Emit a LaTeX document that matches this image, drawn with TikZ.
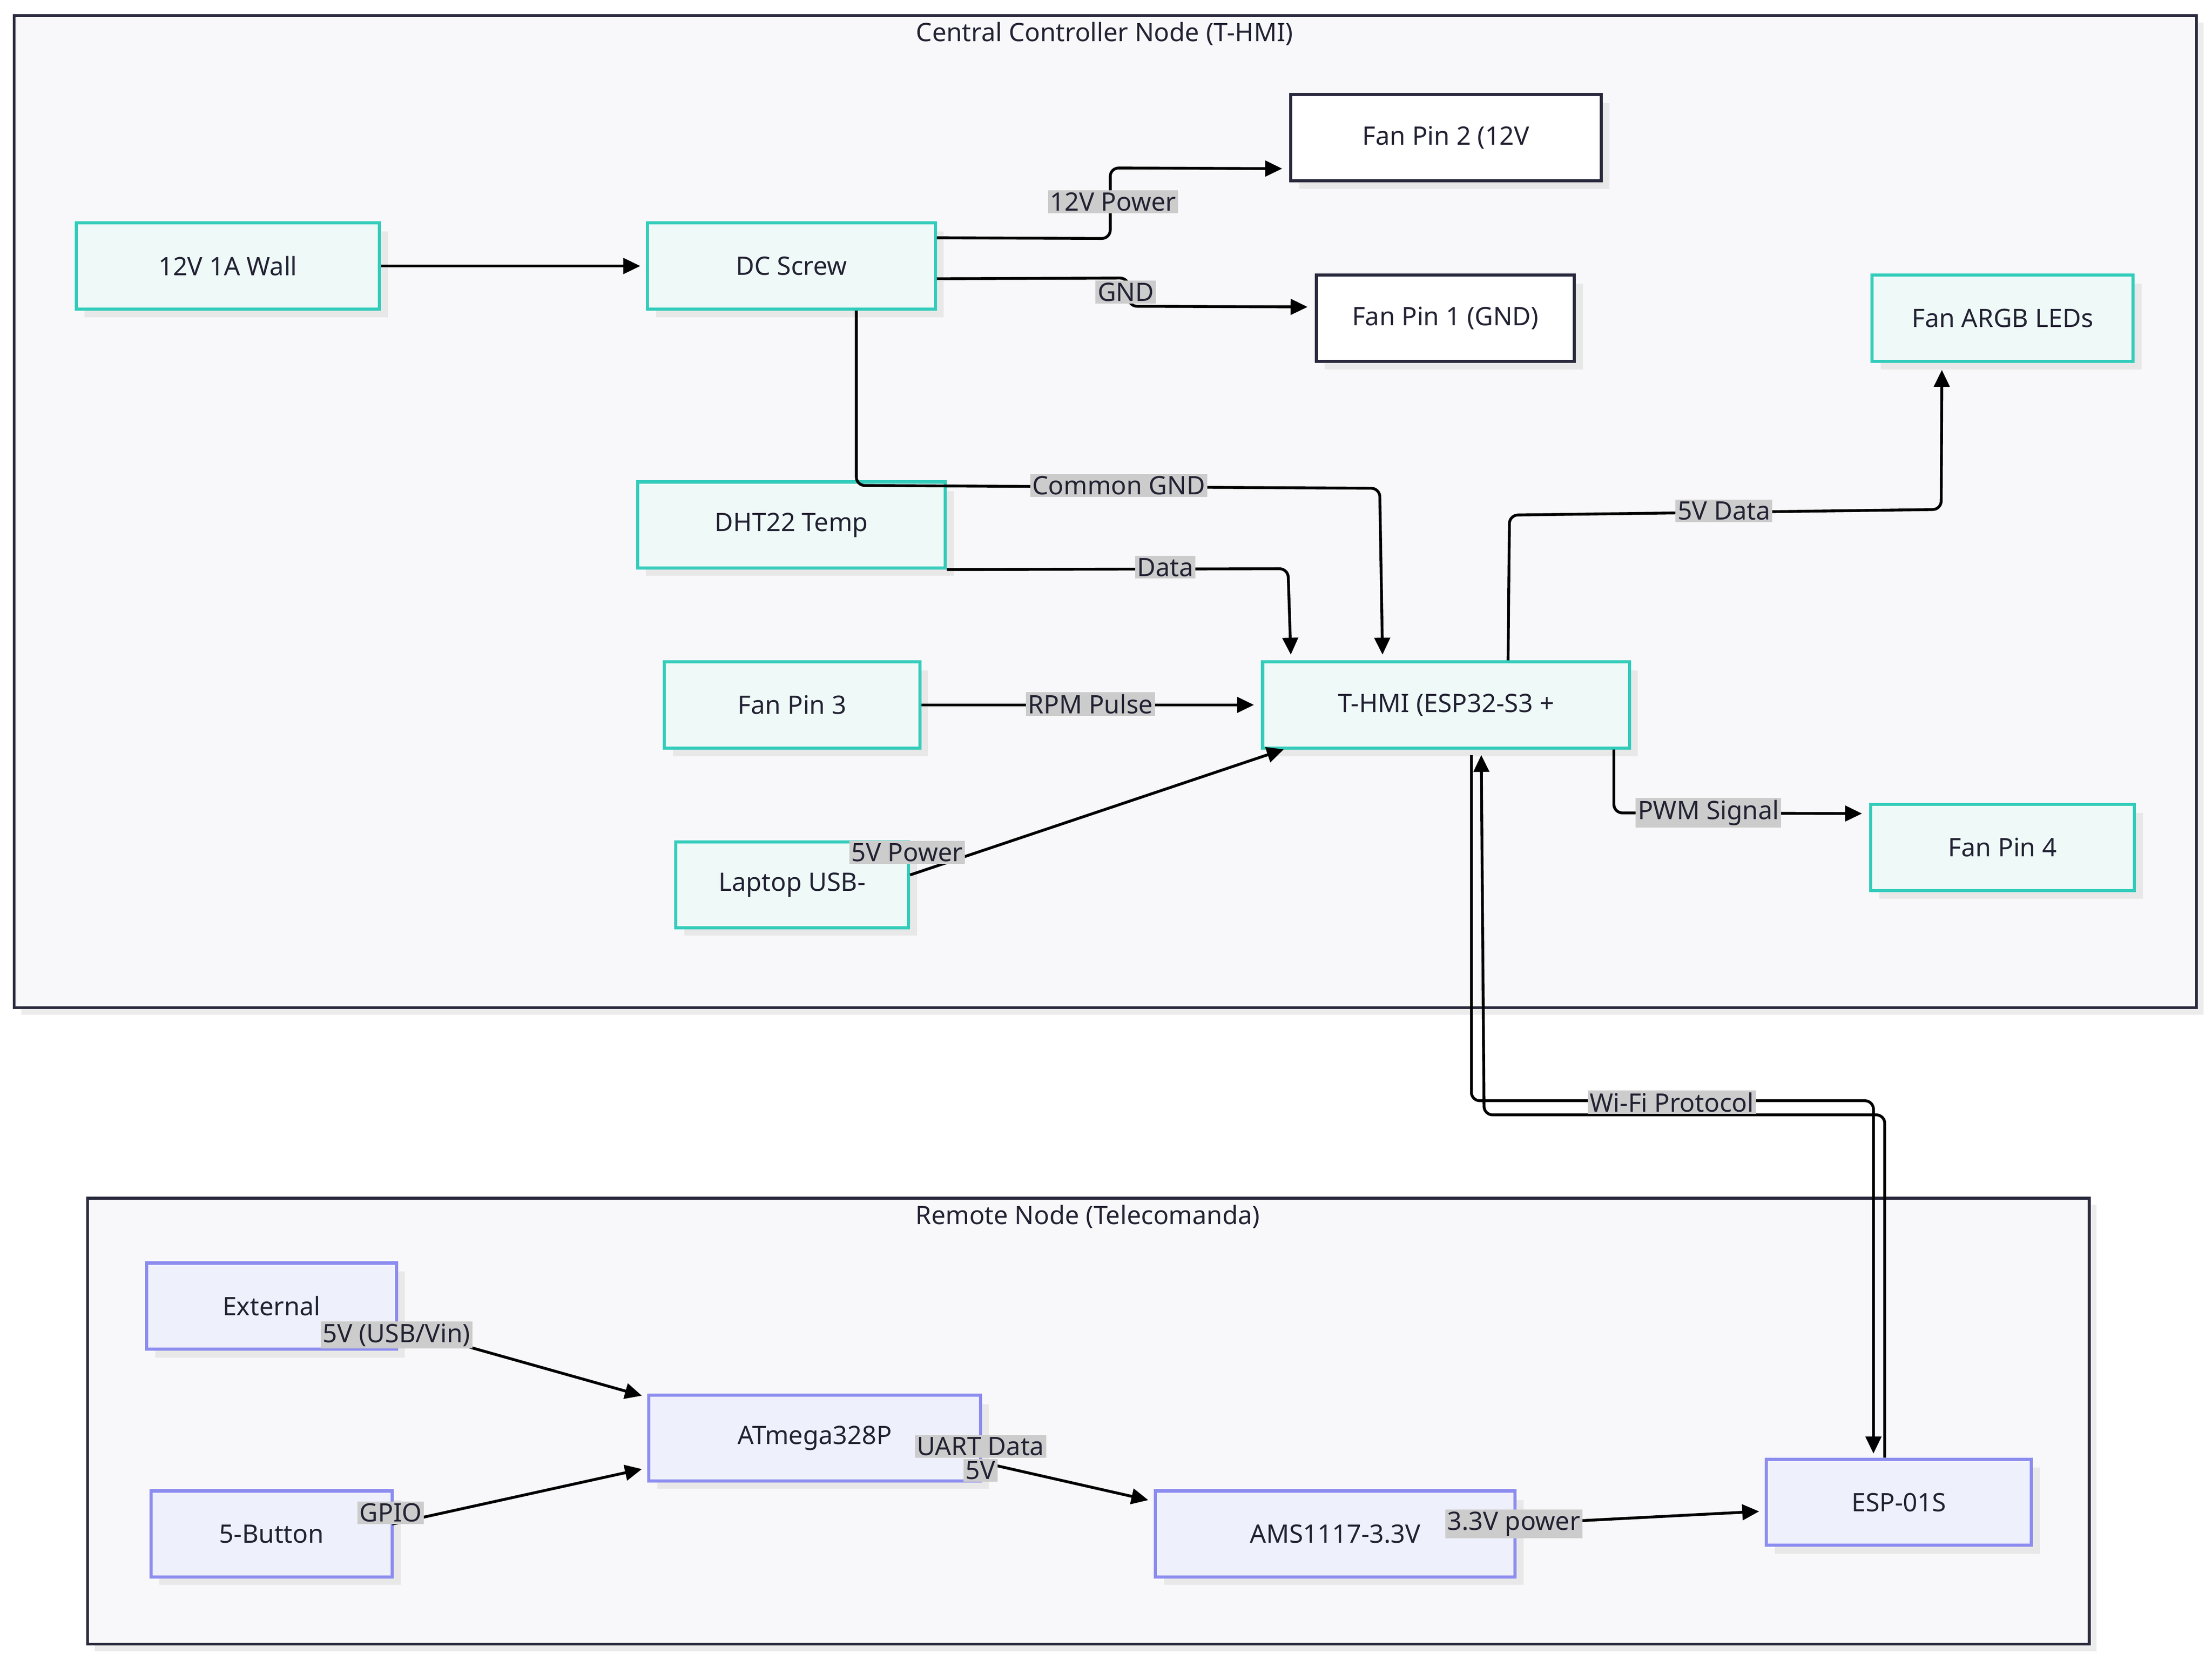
\documentclass[tikz,border=0pt]{standalone}
\usepackage{fontspec}
\setmainfont{Noto Sans}
\usetikzlibrary{arrows.meta}
\definecolor{cl}{HTML}{F8F8FA}
\definecolor{cs}{HTML}{2A2A3E}
\definecolor{tl}{HTML}{33CCBB}
\definecolor{tf}{HTML}{EFFAF8}
\definecolor{bl}{HTML}{8C8CF0}
\definecolor{bf}{HTML}{EEF0FC}
\definecolor{lb}{HTML}{CCCCCC}
\definecolor{tx}{HTML}{222233}
\begin{document}
\begin{tikzpicture}[x=1pt,y=-1pt,font=\fontsize{18}{21}\selectfont,text=tx,
 box/.style={draw,line width=2.2pt,minimum width=#1,minimum height=61pt,inner sep=0pt},
 teal/.style={box=#1,draw=tl,fill=tf},
 wht/.style={box=#1,draw=cs,fill=white},
 blu/.style={box=#1,draw=bl,fill=bf},
 e/.style={draw=black,line width=2pt,-{Triangle[length=12pt,width=11pt]},rounded corners=6pt},
 lab/.style={fill=lb,inner sep=1.5pt,text=tx}]
\useasboundingbox (0,0) rectangle (1568,1176);
\fill[gray!15] (15,16) rectangle (1562,719);
\draw[cs,fill=cl,line width=2pt] (10,11) rectangle (1557,714);
\node (t1) at (783,24) {Central Controller Node (T-HMI)};
\fill[gray!15] (67,854) rectangle (1486,1170);
\draw[cs,fill=cl,line width=2pt] (62,849) rectangle (1481,1165);
\node (t2) at (771,862) {Remote Node (Telecomanda)};
\foreach \a/\b/\c/\d in {54/158/269/219,459/158/663/219,452/342/670/402,471/469/652/530,479/597/644/657,895/469/1155/530,1327/195/1512/256,1326/570/1513/631,915/67/1135/128,933/195/1116/256,104/895/281/956,460/989/695/1049,107/1057/278/1117,819/1057/1074/1117,1252/1034/1440/1095}
 \fill[gray!18] (\a+6,\b+6) rectangle (\c+6,\d+6);
\node[teal=215pt] (wall) at (161.5,188.5) {12V 1A Wall};
\node[teal=204pt] (dc) at (561,188.5) {DC Screw};
\node[teal=218pt] (dht) at (561,372) {DHT22 Temp};
\node[teal=181pt] (fp3) at (561.5,499.5) {Fan Pin 3};
\node[teal=165pt] (lap) at (561.5,627) {Laptop USB-};
\node[teal=260pt] (hmi) at (1025,499.5) {T-HMI (ESP32-S3 +};
\node[teal=185pt] (argb) at (1419.5,225.5) {Fan ARGB LEDs};
\node[teal=187pt] (fp4) at (1419.5,600.5) {Fan Pin 4};
\node[wht=220pt] (fp2) at (1025,97.5) {Fan Pin 2 (12V};
\node[wht=183pt] (fp1) at (1024.5,225.5) {Fan Pin 1 (GND)};
\node[blu=177pt] (ext) at (192.5,925.5) {External};
\node[blu=235pt] (atm) at (577.5,1019) {ATmega328P};
\node[blu=171pt] (btn) at (192.5,1087) {5-Button};
\node[blu=255pt] (ams) at (946.5,1087) {AMS1117-3.3V};
\node[blu=188pt] (esp) at (1346,1064.5) {ESP-01S};
\coordinate (w1) at (1043,780); \coordinate (w2) at (1328,780);
\coordinate (w3) at (1336,790); \coordinate (w4) at (1052,790);
\path[e] (wall.east) -- ([xshift=-4pt]dc.west);
\path[e] ([yshift=20pt]dc.east) -- (787,169) -- (787,119) -- ([xshift=-5pt,yshift=-22pt]fp2.west);
\node[lab] at (789,143) {12V Power};
\path[e] ([yshift=-9pt]dc.east) -- (800,197) -- (800,217) -- ([xshift=-5pt,yshift=8pt]fp1.west);
\node[lab] at (798,207) {GND};
\path[e] ([xshift=46pt]dc.south) -- (607,344) -- (978,346) -- ([xshift=-45pt,yshift=4pt]hmi.north);
\node[lab] at (793,344) {Common GND};
\path[e] (dht.south east) -- (913,403) -- ([xshift=-110pt,yshift=4pt]hmi.north);
\node[lab] at (826,402) {Data};
\path[e] (fp3.east) -- ([xshift=-5pt]hmi.west);
\node[lab] at (773,499) {RPM Pulse};
\path[e] ([yshift=7pt]lap.east) -- (910,531);
\node[lab] at (643,604) {5V Power};
\path[e] ([xshift=44pt]hmi.north) -- (1070,365) -- (1376,361) -- ([xshift=-43pt,yshift=-5pt]argb.south);
\node[lab] at (1222,362) {5V Data};
\path[e] ([xshift=119pt]hmi.south) -- (1144,576) -- ([xshift=-5pt,yshift=24pt]fp4.west);
\node[lab] at (1211,576) {PWM Signal};
\path[e] (esp.north -| w3) -- (w3) -- (w4) -- (1050,535);
\path[e] (1043,535) -- (w1) -- (w2) -- (1328,1030);
\node[lab] at (1185,781) {Wi-Fi Protocol};
\path[e] (281,940) -- (455,989);
\node[lab] at (281,946) {5V (USB/Vin)};
\path[e] (278,1080) -- (455,1041);
\node[lab] at (277,1072) {GPIO};
\path[e] (695,1036) -- (814,1063);
\node[lab] at (695,1042) {5V};
\node[lab] at (695,1025) {UART Data};
\path[e] (1074,1080) -- (1247,1071);
\node[lab] at (1073,1080) {3.3V power};
\end{tikzpicture}
\end{document}
